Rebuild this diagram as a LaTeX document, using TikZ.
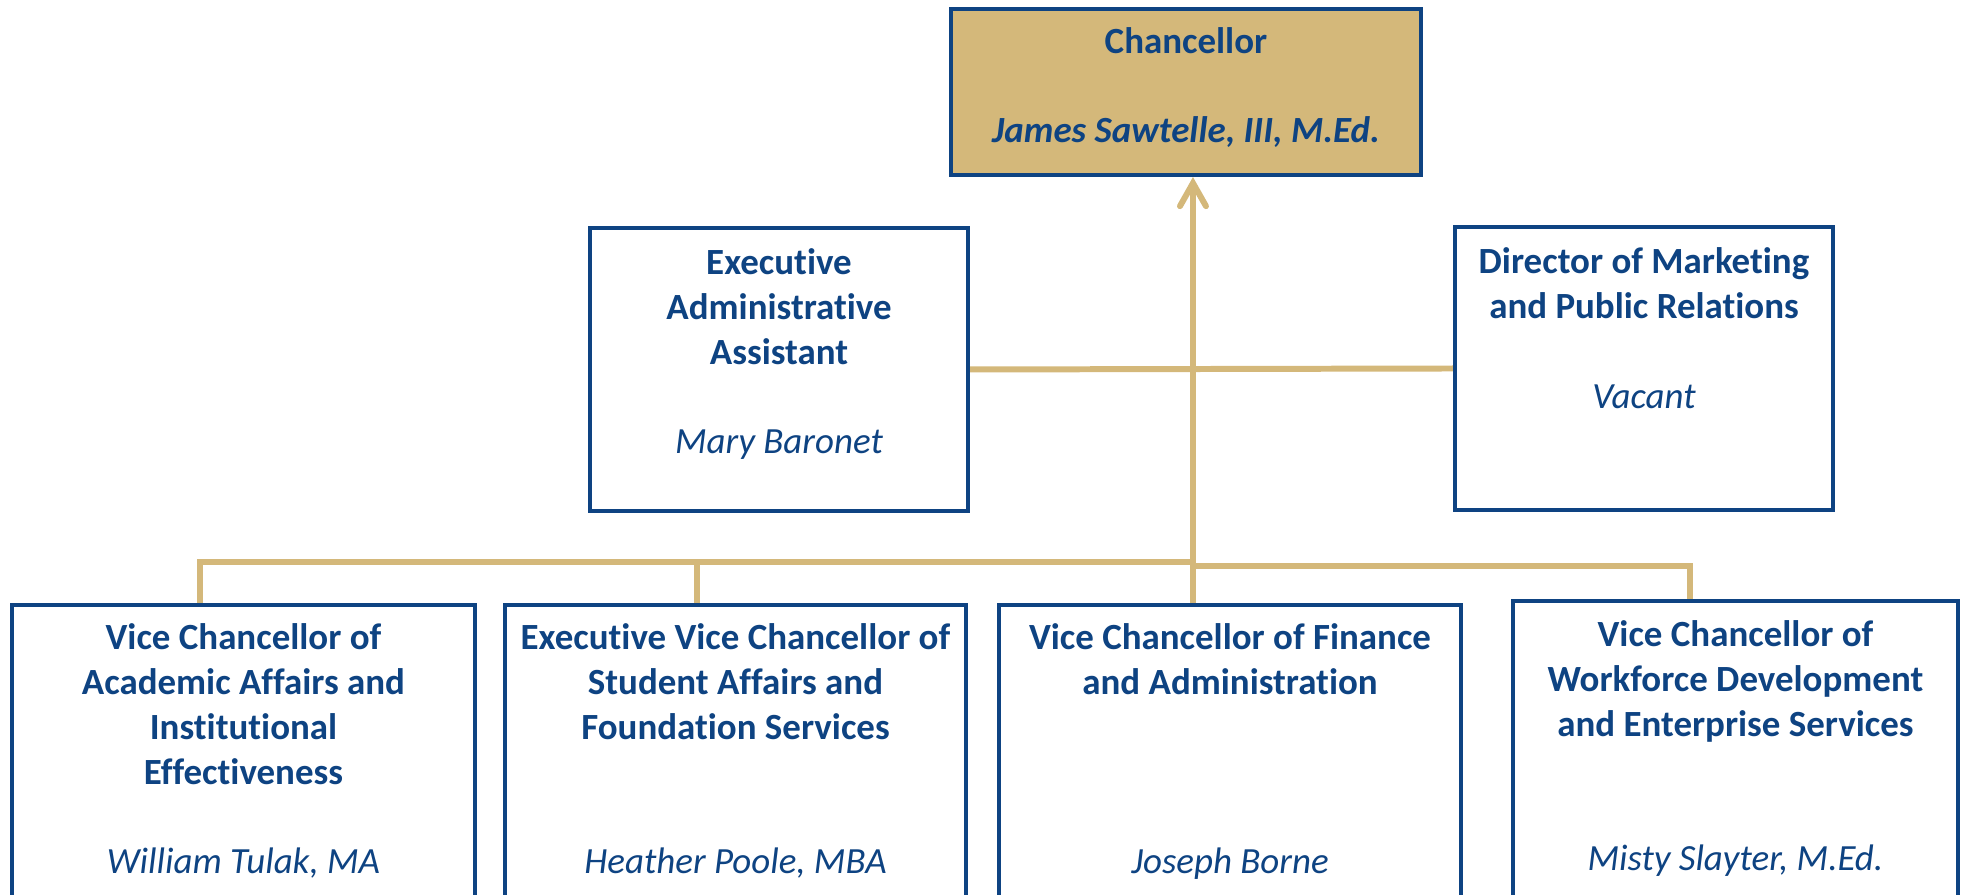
\documentclass[tikz,border=0pt]{standalone}
\usepackage{fontspec}
\setmainfont{Carlito}[Ligatures=NoCommon]
\usetikzlibrary{arrows.meta,calc}
\definecolor{navy}{HTML}{0E4382}
\definecolor{gold}{HTML}{D4B87A}
\tikzset{
	% ---- default
	every node/.style={font=\fontsize{10.5}{12.8}\selectfont, text=navy},
	% ---- custom
	box/.style={rectangle, draw=navy, line width=1.15pt, fill=white, inner sep=0pt},
	headbox/.style={box, fill=gold},
	title/.style={anchor=north, align=center, inner sep=0pt, font=\fontsize{10.5}{12.8}\selectfont\bfseries},
	person/.style={anchor=base, inner sep=0pt, font=\fontsize{10.5}{12.8}\selectfont\itshape},
	link/.style={draw=gold, line width=1.7pt},
	uplink/.style={link, -{Straight Barb[length=2.3mm, width=2.6mm, line cap=round]}},
}
\begin{document}
\begin{tikzpicture}[x=0.01cm, y=-0.01cm]

% frame %{{{2

	\useasboundingbox (0,0) rectangle (1962,895);
	\clip (0,0) rectangle (1962,895);

% boxes %{{{2

	\node[headbox, minimum width=4.70cm, minimum height=1.66cm] (chan) at (1186,92) {};
	\node[box, minimum width=3.78cm, minimum height=2.83cm] (assist) at (779,369.5) {};
	\node[box, minimum width=3.78cm, minimum height=2.83cm] (direc) at (1644,368.5) {};
	\node[box, minimum width=4.63cm, minimum height=3.30cm] (acad) at (243.5,770) {};
	\node[box, minimum width=4.61cm, minimum height=3.30cm] (stud) at (735.5,770) {};
	\node[box, minimum width=4.62cm, minimum height=3.30cm] (fin) at (1230,770) {};
	\node[box, minimum width=4.45cm, minimum height=3.30cm] (work) at (1735.5,766) {};

% titles %{{{2

	\node[title] (chantitle) at ([yshift=-0.20cm]chan.north) {Chancellor};
	\node[title] (assisttitle) at ([yshift=-0.22cm]assist.north) {Executive\\Administrative\\Assistant};
	\node[title] (directitle) at ([yshift=-0.22cm]direc.north) {Director of Marketing\\and Public Relations};
	\node[title] (acadtitle) at ([yshift=-0.20cm]acad.north) {Vice Chancellor of\\Academic Affairs and\\Institutional\\Effectiveness};
	\node[title] (studtitle) at ([yshift=-0.20cm]stud.north) {Executive Vice Chancellor of\\Student Affairs and\\Foundation Services};
	\node[title] (fintitle) at ([yshift=-0.20cm]fin.north) {Vice Chancellor of Finance\\and Administration};
	\node[title] (worktitle) at ([yshift=-0.21cm]work.north) {Vice Chancellor of\\Workforce Development\\and Enterprise Services};

% names %{{{2

	\node[person, font=\fontsize{10.5}{12.8}\selectfont\bfseries\itshape] (channame) at ([yshift=-1.36cm]chan.north) {James Sawtelle, III, M.Ed.};
	\node[person] (assistname) at ([yshift=-2.27cm]assist.north) {Mary Baronet};
	\node[person] (direcname) at ([yshift=-1.84cm]direc.north) {Vacant};
	\node[person] (acadname) at ([yshift=-2.70cm]acad.north) {William Tulak, MA};
	\node[person] (studname) at ([yshift=-2.70cm]stud.north) {Heather Poole, MBA};
	\node[person] (finname) at ([yshift=-2.70cm]fin.north) {Joseph Borne};
	\node[person] (workname) at ([yshift=-2.71cm]work.north) {Misty Slayter, M.Ed.};

% connectors %{{{2

	\coordinate (acadtop) at ([xshift=-0.435cm]acad.north);
	\coordinate (studtop) at ([xshift=-0.385cm]stud.north);
	\coordinate (fintop) at ([xshift=-0.37cm]fin.north);
	\coordinate (worktop) at ([xshift=-0.455cm]work.north);
	\coordinate (busleft) at ($(fintop)+(0,-41)$);
	\coordinate (busright) at ($(fintop)+(0,-37)$);

	\draw[link] (assist.east) -- (direc.west);
	\draw[link] (acadtop) |- (busleft);
	\draw[link] (studtop) -- (studtop |- busleft);
	\draw[link] (worktop) |- (busright);
	\draw[uplink] (fintop) -- (fintop |- chan.south);

% closing %{{{2

\end{tikzpicture}
\end{document}
